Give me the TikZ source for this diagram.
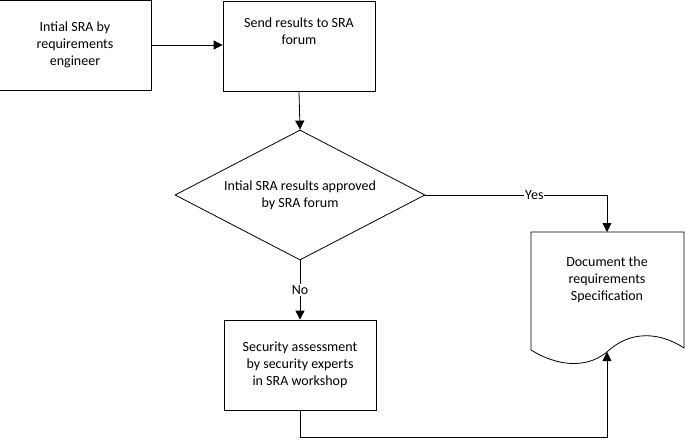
\documentclass[tikz,border=0pt]{standalone}
\usepackage{fontspec}
\setmainfont{Carlito}
\usetikzlibrary{shapes.geometric,arrows.meta}

\tikzset{
  procbox/.style={draw, thick, minimum width=152pt, minimum height=90pt, align=center, inner sep=2pt},
  decide/.style={draw, thick, diamond, aspect=1.92, minimum width=250pt, minimum height=130pt, align=center, inner sep=0pt},
  flow/.style={thick, -{Triangle[length=9pt,width=9pt]}},
}

\begin{document}
\begin{tikzpicture}[x=1pt, y=-1pt, font=\fontsize{14}{17}\selectfont]
\useasboundingbox (0,0) rectangle (685,439);

% Boxes
\node[procbox] (init) at (75,45) {Intial SRA by\\requirements\\engineer};
\node[procbox, anchor=north, text depth=30pt] (send) at (299,1) {Send results to SRA\\forum};
\node[decide] (approve) at (300,195) {Intial SRA results approved\\by SRA forum};
\node[procbox] (assess) at (300,365) {Security assessment\\by security experts\\in SRA workshop};

% Document shape
\draw[thick] (531,232) -- (684,232) -- (684,348)
  .. controls (660,332) and (630,330) .. (607,352)
  .. controls (585,370) and (555,365) .. (531,350) -- cycle;
\node[align=center] (doc) at (607,280) {Document the\\requirements\\Specification};
\coordinate (docin) at (607,232);
\coordinate (docout) at (607,352);

% Connectors
\draw[flow] (init.east) -- (send.west |- init.east);
\draw[flow] (send.south) -- (approve.north);
\draw[flow] (approve.east) -- node[fill=white, inner sep=1pt, pos=0.6] {Yes} (docin |- approve.east) -- (docin);
\draw[flow] (approve.south) -- node[fill=white, inner sep=1pt] {No} (assess.north);
\draw[flow] (assess.south) -- (300,437) -- (607,437) -- (docout);

\end{tikzpicture}
\end{document}
